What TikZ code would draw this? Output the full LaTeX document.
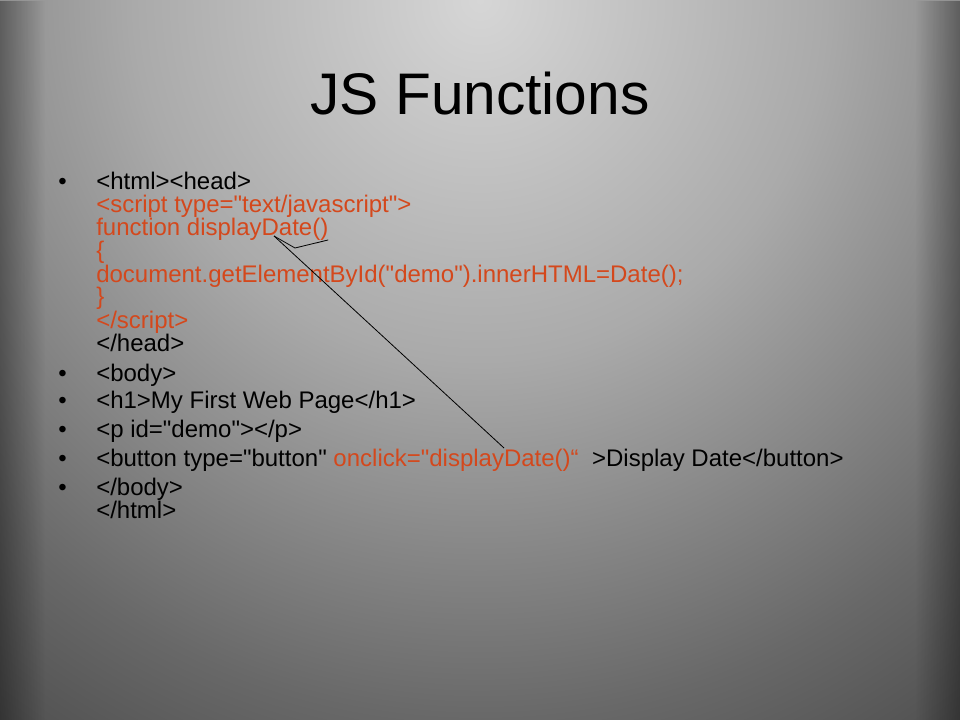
\documentclass[tikz,border=0pt]{standalone}
\usepackage{fontspec}
\setmainfont{Liberation Sans}[Ligatures=TeXOff]
\usetikzlibrary{fadings}
\definecolor{codered}{RGB}{212,72,28}
\definecolor{bgA}{RGB}{214,214,214}
\definecolor{bgM}{RGB}{170,170,170}
\definecolor{bgB}{RGB}{104,104,104}
\definecolor{bgC}{RGB}{80,80,80}
\definecolor{bgD}{RGB}{60,60,60}
\pgfdeclareradialshading{slidebg}{\pgfpoint{0bp}{0bp}}{color(0bp)=(bgA); color(12.5bp)=(bgM); color(25bp)=(bgB); color(30.5bp)=(bgC); color(37.5bp)=(bgD); color(50bp)=(bgD)}
\tikzfading[name=fadeL, left color=transparent!0, right color=transparent!100]
\tikzfading[name=fadeR, left color=transparent!100, right color=transparent!0]
\begin{document}
\begin{tikzpicture}[x=0.75pt,y=-0.75pt,
  line/.style={anchor=base west, inner sep=0pt, font=\fontsize{18pt}{20pt}\selectfont, text=black},
  redline/.style={line, text=codered},
  bul/.style={anchor=base west, inner sep=0pt, font=\fontsize{18pt}{20pt}\selectfont},
  titletext/.style={anchor=base, inner sep=0pt, font=\fontsize{44pt}{50pt}\selectfont},
  link/.style={draw=black, line width=0.6pt, line join=round}]
\useasboundingbox (0,0) rectangle (960,720);
% background
\begin{scope}
\clip (0,0) rectangle (960,720);
\shade[shading=slidebg] (-212,-720) rectangle (1172,720);
\fill[black, fill opacity=0.35, path fading=fadeL] (0,0) rectangle (45,720);
\fill[black, fill opacity=0.35, path fading=fadeR] (915,0) rectangle (960,720);
\end{scope}
% title
\node[titletext] (title) at (480,115) {JS Functions};
% bullets
\node[bul] (b1) at (58,190) {•};
\node[bul] (b2) at (58,381) {•};
\node[bul] (b3) at (58,408) {•};
\node[bul] (b4) at (58,437) {•};
\node[bul] (b5) at (58,466) {•};
\node[bul] (b6) at (58,495) {•};
% first paragraph
\node[line] (l1) at (96,190) {<html><head>};
\node[redline] (l2) at (96,213) {<script type="text/javascript">};
\node[redline] (l3) at (96,236) {function displayDate()};
\node[redline] (l4) at (96,259) {\{};
\node[redline] (l5) at (96,282) {document.getElementById("demo").innerHTML=Date();};
\node[redline] (l6) at (96,305) {\}};
\node[redline] (l7) at (96,328) {</script>};
\node[line] (l8) at (96,351) {</head>};
% other paragraphs
\node[line] (p2) at (96,381) {<body>};
\node[line] (p3) at (96,408) {<h1>My First Web Page</h1>};
\node[line] (p4) at (96,437) {<p id="demo"></p>};
\node[line] (p5) at (96,466) {<button type="button" \textcolor{codered}{onclick="displayDate()“}\ \ >Display Date</button>};
\node[line] (p6) at (96,495) {</body>};
\node[line] (p7) at (96,518) {</html>};
% connector
\coordinate (cA) at (274,236);
\coordinate (cB) at (295,248);
\coordinate (cC) at (328,240);
\coordinate (cD) at (316,243);
\coordinate (cE) at (504,448);
\draw[link] (cA) -- (cE);
\draw[link] (cA) -- (cB) -- (cC) -- (cD);
\end{tikzpicture}
\end{document}
